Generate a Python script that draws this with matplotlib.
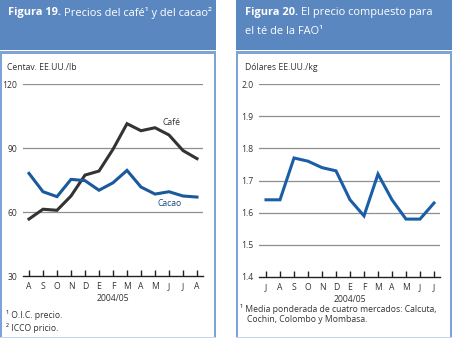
import matplotlib
matplotlib.use("Agg")
import matplotlib.pyplot as plt
from matplotlib.patches import Rectangle

plt.rcParams['font.family'] = ['Open Sans', 'DejaVu Sans']

W, H = 453, 338

# ---------------- data ----------------
months_cof = ["A", "S", "O", "N", "D", "E", "F", "M", "A", "M", "J", "J", "A"]
cafe = [56.7, 61.3, 60.8, 67.5, 77.3, 79.2, 89.4, 101.4, 98.1, 99.5, 96.1, 88.8, 85.0]
cacao = [78.1, 69.5, 67.2, 75.3, 74.7, 70.2, 73.7, 79.5, 71.7, 68.4, 69.5, 67.5, 67.0]
yticks_cof = [30, 60, 90, 120]

months_tea = ["J", "A", "S", "O", "N", "D", "E", "F", "M", "A", "M", "J", "J"]
te = [1.64, 1.64, 1.77, 1.76, 1.74, 1.73, 1.64, 1.59, 1.72, 1.64, 1.58, 1.58, 1.63]
yticks_tea = [1.4, 1.5, 1.6, 1.7, 1.8, 1.9, 2.0]

HEAD = "#5b87c0"
BORDER = "#7ea3d6"
TXT = "#333333"
GRID = "#8f8f8f"

fig = plt.figure(figsize=(W / 100, H / 100), dpi=100)


def fx(x):
    return x / W


def fy(y):
    return 1 - y / H


def rect(x0, y0, x1, y1, color):
    fig.add_artist(Rectangle((fx(x0), fy(y1)), fx(x1) - fx(x0), fy(y0) - fy(y1),
                             transform=fig.transFigure, facecolor=color,
                             edgecolor='none', zorder=0))


# panels
for (x0, x1) in [(0, 216), (236, 452)]:
    rect(x0, 0, x1, 49.5, HEAD)
    rect(x0, 51, x1, 53.5, BORDER)
    rect(x0, 53, x0 + 2, 338, BORDER)
    rect(x1 - 2, 53, x1, 338, BORDER)
    rect(x0, 336.5, x1, 338, "#c5d5ec")

TFS = 7.9


def title(x, y, bold, rest):
    t = fig.text(fx(x), fy(y), bold, color="white", fontsize=TFS, fontweight="bold",
                 va="center", ha="left")
    fig.canvas.draw()
    bb = t.get_window_extent()
    fig.text(bb.x1 / W + fx(3), fy(y), rest, color="white", fontsize=TFS,
             va="center", ha="left")


title(8, 13, "Figura 19.", "Precios del café¹ y del cacao²")
title(245, 13, "Figura 20.", "El precio compuesto para")
fig.text(fx(245), fy(32), "el té de la FAO¹", color="white", fontsize=TFS,
         va="center", ha="left")

# units
fig.text(fx(7), fy(68), "Centav. EE.UU./lb", fontsize=6.2, color=TXT, va="center")
fig.text(fx(245), fy(68), "Dólares EE.UU./kg", fontsize=6.2, color=TXT, va="center")


def make_ax(x0, x1, ytop, ybot, ylim, xlim, yticks, months, fmt):
    ax = fig.add_axes([fx(x0), fy(ybot), fx(x1) - fx(x0), fy(ytop) - fy(ybot)])
    ax.set_xlim(*xlim)
    ax.set_ylim(*ylim)
    for s in ["top", "right", "left"]:
        ax.spines[s].set_visible(False)
    ax.spines["bottom"].set_color("#222222")
    ax.spines["bottom"].set_linewidth(1.0)
    ax.set_facecolor("none")
    ax.set_xticks(range(len(months)))
    ax.set_xticklabels(months)
    ax.tick_params(axis="x", direction="in", length=4, width=1, color="#222222",
                   labelsize=6.2, labelcolor=TXT, pad=4.5)
    ax.set_yticks(yticks)
    ax.set_yticklabels([fmt(v) for v in yticks])
    ax.tick_params(axis="y", length=0, labelsize=6.2, labelcolor=TXT, pad=4)
    for v in yticks[1:]:
        ax.axhline(v, color=GRID, lw=0.9, zorder=1)
    ax.set_xlabel("2004/05", fontsize=6.2, color=TXT, labelpad=2)
    return ax


ax1 = make_ax(23, 203, 84, 276, (30, 120), (-6 / 14, 12 + 6 / 14), yticks_cof,
              months_cof, lambda v: f"{v:d}")
x1 = range(len(cafe))
ax1.plot(x1, cafe, color="#333333", lw=2.2, zorder=3, solid_joinstyle="miter")
ax1.plot(x1, cacao, color="#1a5a9c", lw=2.2, zorder=3, solid_joinstyle="miter")
ax1.text(9.55, 102, "Café", fontsize=6.2, color=TXT, ha="left", va="center")
ax1.text(9.2, 63.8, "Cacao", fontsize=6.2, color="#1a4a80", ha="left", va="center")

ax2 = make_ax(259, 440, 84, 277, (1.4, 2.0), (-7 / 14, 12 + 6 / 14), yticks_tea,
              months_tea, lambda v: f"{v:.1f}")
ax2.plot(range(len(te)), te, color="#1a5ea8", lw=2.2, zorder=3, solid_joinstyle="miter")

# footnotes
fig.text(fx(6), fy(315), "¹ O.I.C. precio.", fontsize=6.2, color=TXT, va="center")
fig.text(fx(6), fy(328), "² ICCO pricio.", fontsize=6.2, color=TXT, va="center")
fig.text(fx(240), fy(308.5), "¹ Media ponderada de cuatro mercados: Calcuta,",
         fontsize=6.2, color=TXT, va="center")
fig.text(fx(247), fy(320), "Cochin, Colombo y Mombasa.", fontsize=6.2, color=TXT,
         va="center")

fig.savefig("out.png", dpi=100)
